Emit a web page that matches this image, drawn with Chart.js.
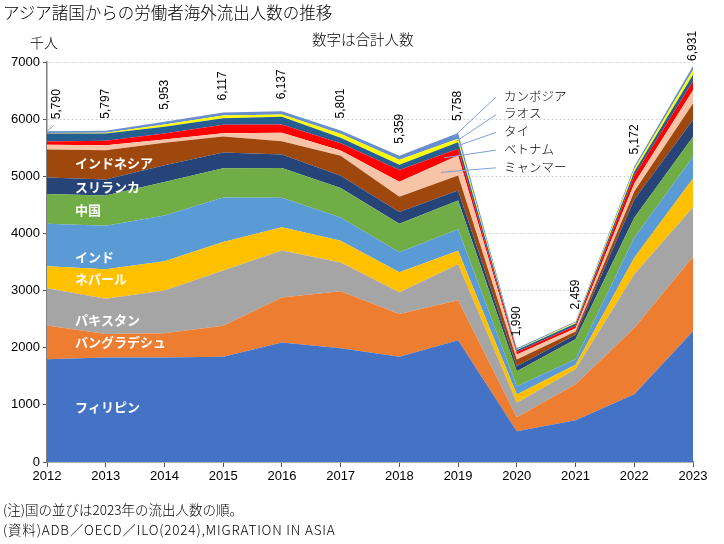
<!DOCTYPE html>
<html><head><meta charset="utf-8">
<script src="https://cdn.jsdelivr.net/npm/chart.js@4"></script>
<style>
html,body{margin:0;padding:0;background:#fff;}
body{width:724px;height:544px;position:relative;overflow:hidden;font-family:"Noto Sans CJK JP",sans-serif;}
#wrap{position:absolute;left:0;top:0;width:724px;height:544px;}
.t{position:absolute;white-space:nowrap;color:#000;line-height:1;font-weight:300;}
</style></head><body>
<div id="wrap"><canvas id="c" width="724" height="544"></canvas></div>
<div class="t" style="left:3px;top:4px;font-size:16.5px;">アジア諸国からの労働者海外流出人数の推移</div>
<div class="t" style="left:30px;top:35px;font-size:14px;">千人</div>
<div class="t" style="left:312px;top:32px;font-size:14.5px;">数字は合計人数</div>
<div class="t" style="left:3px;top:503px;font-size:13.5px;">(注)国の並びは2023年の流出人数の順。</div>
<div class="t" style="left:3px;top:523px;font-size:13.5px;letter-spacing:0.8px;">(資料)ADB／OECD／ILO(2024),MIGRATION IN ASIA</div>
<script>
const years = ['2012','2013','2014','2015','2016','2017','2018','2019','2020','2021','2022','2023'];
const philippines = [1800, 1830, 1830, 1840, 2090, 1990, 1840, 2130, 540, 730, 1185, 2290];
const bangladesh  = [590, 410, 425, 545, 790, 1000, 750, 700, 245, 630, 1160, 1300];
const pakistan    = [650, 615, 745, 965, 820, 500, 380, 630, 250, 265, 940, 870];
const nepal       = [385, 520, 515, 500, 410, 380, 350, 235, 145, 75, 290, 500];
const india       = [745, 760, 800, 780, 515, 410, 350, 380, 145, 100, 350, 380];
const china       = [520, 530, 585, 510, 520, 515, 500, 500, 265, 350, 350, 350];
const sriLanka    = [290, 280, 295, 275, 235, 215, 205, 175, 85, 75, 320, 295];
const indonesia   = [490, 510, 390, 280, 235, 350, 265, 265, 120, 60, 140, 290];
const myanmar     = [80, 90, 60, 60, 145, 90, 265, 350, 85, 55, 140, 230];
const vietnam     = [60, 75, 105, 145, 145, 130, 205, 115, 45, 45, 135, 160];
const thailand    = [140, 130, 115, 115, 135, 95, 90, 115, 35, 40, 70, 110];
const laos        = [8, 10, 40, 47, 40, 70, 90, 60, 10, 15, 47, 85];
const cambodia    = [32, 37, 48, 55, 57, 56, 69, 103, 20, 19, 45, 71];
const totals      = [5790, 5797, 5953, 6117, 6137, 5801, 5359, 5758, 1990, 2459, 5172, 6931];
const names = ['フィリピン','バングラデシュ','パキスタン','ネパール','インド','中国','スリランカ','インドネシア','ミャンマー','ベトナム','タイ','ラオス','カンボジア'];

const series = [philippines, bangladesh, pakistan, nepal, india, china, sriLanka, indonesia, myanmar, vietnam, thailand, laos, cambodia];
const colors = ['#4472C4','#ED7D31','#A5A5A5','#FFC000','#5B9BD5','#70AD47','#264478','#9E480E','#F8C4A8','#FF0000','#255E91','#FFFF00','#698ED0'];

const insideLabels = [
  {k:0, dy:-4}, {k:1, dy:0}, {k:2, dy:13}, {k:3, dy:2},
  {k:4, dy:12}, {k:5, dy:1}, {k:6, dy:1}, {k:7, dy:0}
];
const rightLabels = [
  {k:12, t:0.90}, {k:11, t:0.97}, {k:10, t:1.0}, {k:9, t:0.76}, {k:8, t:0.71}
];

const overlay = {
  id:'overlay',
  afterDatasetsDraw(chart){
    const {ctx, scales:{x, y}, chartArea} = chart;
    const ds = chart.data.datasets;
    const cum = (k, i) => { let s = 0; for (let j = 0; j <= k; j++) s += ds[j].data[i]; return s; };
    ctx.save();
    ctx.font = '12px "Liberation Sans", Arial, sans-serif';
    ctx.fillStyle = '#000';
    totals.forEach((t, i) => {
      const px = x.getPixelForValue(i);
      const py = y.getPixelForValue(cum(ds.length - 1, i));
      let dx = 0, gap = 12;
      if (i === 0) {
        dx = 10;
        ctx.strokeStyle = '#a0a0a0'; ctx.lineWidth = 1;
        ctx.beginPath(); ctx.moveTo(px, py); ctx.lineTo(px + 7, py - 6); ctx.stroke();
      }
      if (i === totals.length - 1) gap = 5;
      ctx.save();
      ctx.translate(px + dx, py - gap);
      ctx.rotate(-Math.PI / 2);
      ctx.textAlign = 'left'; ctx.textBaseline = 'middle';
      ctx.fillText(t.toLocaleString('en-US'), 0, 0);
      ctx.restore();
    });
    ctx.font = 'bold 13px "Noto Sans CJK JP", sans-serif';
    ctx.fillStyle = '#fff';
    ctx.textAlign = 'left'; ctx.textBaseline = 'middle';
    insideLabels.forEach(l => {
      const lo = l.k === 0 ? 0 : cum(l.k - 1, 0);
      const hi = cum(l.k, 0);
      const py = (y.getPixelForValue(lo) + y.getPixelForValue(hi)) / 2 + l.dy;
      ctx.fillText(names[l.k], chartArea.left + 28, py);
    });
    const x6 = x.getPixelForValue(6), x7 = x.getPixelForValue(7);
    const lx = x7 + 46;
    rightLabels.forEach((l, n) => {
      const ly = chartArea.top + 34 + n * 17.7;
      const mid = i => (cum(l.k, i) + cum(l.k - 1, i)) / 2;
      const v = mid(6) + l.t * (mid(7) - mid(6));
      const ax = x6 + l.t * (x7 - x6);
      const ay = y.getPixelForValue(v);
      ctx.strokeStyle = '#7F9FD8'; ctx.lineWidth = 1;
      ctx.beginPath(); ctx.moveTo(lx - 8, ly + 1); ctx.lineTo(ax, ay); ctx.stroke();
      ctx.font = '300 12.5px "Noto Sans CJK JP", sans-serif';
      ctx.fillStyle = '#000';
      ctx.fillText(names[l.k], lx, ly);
    });
    ctx.restore();
  }
};

new Chart(document.getElementById('c'), {
  type: 'line',
  data: {
    labels: years,
    datasets: series.map((d, k) => ({
      label: names[k], data: d,
      backgroundColor: colors[k], borderColor: colors[k], borderWidth: 0,
      pointRadius: 0, tension: 0, fill: k === 0 ? 'origin' : '-1'
    }))
  },
  options: {
    responsive: false, devicePixelRatio: 1, animation: false,
    layout: {padding: {top: 62, right: 31, left: 0, bottom: 0}},
    plugins: {legend: {display: false}, tooltip: {enabled: false}},
    scales: {
      x: {
        offset: false,
        grid: {display: true, drawOnChartArea: false, drawTicks: true, tickLength: 5, tickColor: '#555'},
        border: {color: '#7f7f7f', width: 1.5},
        ticks: {color: '#000', font: {size: 13, family: '"Liberation Sans", Arial, sans-serif'}, padding: 2, maxRotation: 0, autoSkip: false},
        afterFit: s => { s.height = 82; }
      },
      y: {
        stacked: true, min: 0, max: 7000,
        grid: {color: '#d0d0d0', drawTicks: true, tickLength: 4, tickColor: '#555'},
        border: {color: '#7f7f7f', width: 1.5, dash: [2, 2]},
        ticks: {stepSize: 1000, color: '#000', font: {size: 13, family: '"Liberation Sans", Arial, sans-serif'}, padding: 3,
          callback: v => String(v)},
        afterFit: s => { s.width = 47; }
      }
    }
  },
  plugins: [overlay]
});
</script>
</body></html>
